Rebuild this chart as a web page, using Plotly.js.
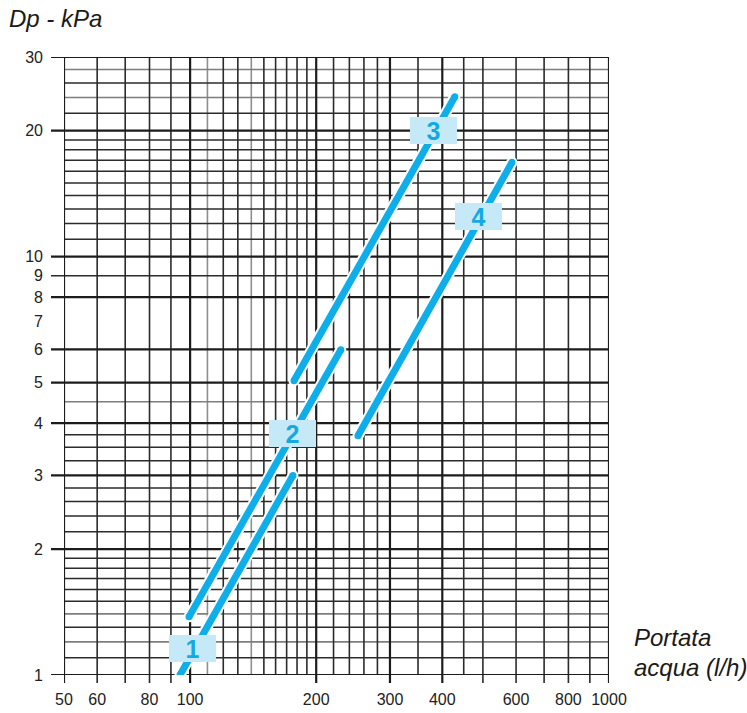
<!DOCTYPE html>
<html>
<head>
<meta charset="utf-8">
<script src="https://cdn.plot.ly/plotly-3.0.1.min.js"></script>
<style>html,body{margin:0;padding:0;background:#fff;}#chart{width:747px;height:713px;}</style>
</head>
<body>
<div id="chart"></div>
<script>
// ---- data ----
var curveNames = ['1', '2', '3', '4'];
var curve1X = [94.6, 176];
var curve1Y = [1.0, 3.0];
var curve2X = [99.4, 229];
var curve2Y = [1.377, 5.99];
var curve3X = [177, 428.5];
var curve3Y = [5.05, 24.1];
var curve4X = [251.6, 586.6];
var curve4Y = [3.73, 16.8];
var labelX = [101.6, 176, 382, 489];
var labelY = [1.154, 3.77, 20.0, 12.47];

// axis ticks / labels
var xTickVals = [50, 60, 70, 80, 90, 100, 200, 300, 400, 500, 600, 700, 800, 900, 1000];
var xTickText = ['50', '60', '', '80', '', '100', '200', '300', '400', '', '600', '', '800', '', '1000'];
var yTickVals = [1, 2, 3, 4, 5, 6, 7, 8, 9, 10, 20, 30];
var yTickText = ['1', '2', '3', '4', '5', '6', '7', '8', '9', '10', '20', '30'];
var yTickMarks = [1, 2, 3, 4, 5, 6, 8, 9, 10, 20, 30];

// grid lines
var xGridThick = [50, 100, 200, 300, 400, 1000];
var xGridNormal = [60, 70, 80, 90, 120, 130, 150, 160, 170, 180, 190, 220, 240, 260, 280, 350, 450, 500, 600, 700, 800, 900];
var xGridLight = [110, 140];
var yGridThick = [1, 2, 3, 4, 5, 6, 8, 10, 20, 30];
var yGridNormal = [1.1, 1.3, 1.5, 1.6, 1.7, 1.8, 1.9, 2.2, 2.4, 2.6, 2.8, 3.25, 3.5, 3.75, 9, 11, 12, 13, 14, 15, 16, 17, 18, 19, 22, 26];
var yGridLight = [1.2, 1.4, 4.5, 24, 28];

// ---- styling ----
var CYAN = '#0daee9';
var FONT = 'Liberation Sans, Arial, Helvetica, sans-serif';
var plotW = 747 - 64 - 138, plotH = 713 - 57 - 38;

var shapes = [];
function vline(v, color, width) {
  var tick = xTickVals.indexOf(v) >= 0;
  shapes.push({type: 'line', xref: 'x', yref: 'paper', x0: v, x1: v,
    y0: tick ? -8 / plotH : 0, y1: 1, layer: 'below',
    line: {color: color, width: width}});
}
function hline(v, color, width) {
  var tick = yTickMarks.indexOf(v) >= 0;
  shapes.push({type: 'line', xref: 'paper', yref: 'y', y0: v, y1: v,
    x0: tick ? -13 / plotW : 0, x1: 1, layer: 'below',
    line: {color: color, width: width}});
}
xGridLight.forEach(function (v) { vline(v, '#8e8e8e', 1.6); });
yGridLight.forEach(function (v) { hline(v, '#7e7e7e', 1.6); });
xGridNormal.forEach(function (v) { vline(v, '#2b2b2b', 1.6); });
yGridNormal.forEach(function (v) { hline(v, '#2b2b2b', 1.5); });
xGridThick.forEach(function (v) { vline(v, '#1c1c1c', 2.2); });
yGridThick.forEach(function (v) { hline(v, '#1c1c1c', 2.2); });

var curvesX = [curve1X, curve2X, curve3X, curve4X];
var curvesY = [curve1Y, curve2Y, curve3Y, curve4Y];
var traces = [];
curvesX.forEach(function (cx, i) {
  traces.push({x: cx, y: curvesY[i], type: 'scatter', mode: 'lines+markers',
    line: {color: '#ffffff', width: 11}, marker: {color: '#ffffff', size: 11},
    hoverinfo: 'skip', showlegend: false});
});
curvesX.forEach(function (cx, i) {
  traces.push({x: cx, y: curvesY[i], type: 'scatter', mode: 'lines+markers',
    line: {color: CYAN, width: 7}, marker: {color: CYAN, size: 7},
    name: curveNames[i], showlegend: false});
});

var annotations = curveNames.map(function (n, i) {
  return {x: Math.log10(labelX[i]), y: Math.log10(labelY[i]), xref: 'x', yref: 'y',
    text: '<b>' + n + '</b>', showarrow: false, bgcolor: '#c6e9f8',
    borderwidth: 0, borderpad: 2, width: 43, height: 23,
    font: {family: FONT, size: 25, color: '#14a9e3'}};
});
annotations.push({xref: 'paper', yref: 'paper', x: -57 / plotW, y: 1 + 39 / plotH,
  xanchor: 'left', yanchor: 'middle', showarrow: false,
  text: '<i>Dp - kPa</i>', font: {family: FONT, size: 24, color: '#1a1a1a'}});
annotations.push({xref: 'paper', yref: 'paper', x: 568 / plotW, y: 38 / plotH,
  xanchor: 'left', yanchor: 'middle', showarrow: false,
  text: '<i>Portata</i>', font: {family: FONT, size: 24, color: '#1a1a1a'}});
annotations.push({xref: 'paper', yref: 'paper', x: 568 / plotW, y: 8 / plotH,
  xanchor: 'left', yanchor: 'middle', showarrow: false,
  text: '<i>acqua (l/h)</i>', font: {family: FONT, size: 24, color: '#1a1a1a'}});

var layout = {
  width: 747, height: 713,
  margin: {l: 64, r: 138, t: 57, b: 38},
  paper_bgcolor: '#ffffff', plot_bgcolor: '#ffffff',
  showlegend: false,
  xaxis: {type: 'log', range: [Math.log10(50), 3], showgrid: false, zeroline: false,
    showline: false, ticks: '', tickmode: 'array', tickvals: xTickVals, ticktext: xTickText,
    ticklabelstandoff: 13, tickfont: {family: FONT, size: 16, color: '#222'}, fixedrange: true},
  yaxis: {type: 'log', range: [0, Math.log10(30)], showgrid: false, zeroline: false,
    showline: false, ticks: '', tickmode: 'array', tickvals: yTickVals, ticktext: yTickText,
    ticklabelstandoff: 20, tickfont: {family: FONT, size: 16, color: '#222'}, fixedrange: true},
  shapes: shapes,
  annotations: annotations
};

Plotly.newPlot('chart', traces, layout, {displayModeBar: false, staticPlot: true});
</script>
</body>
</html>
